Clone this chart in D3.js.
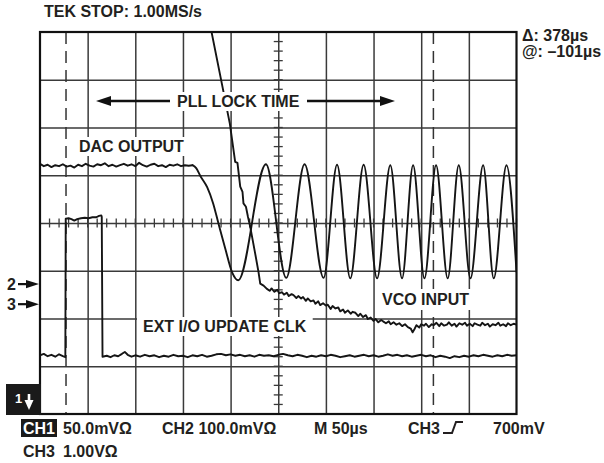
<!DOCTYPE html>
<html><head><meta charset="utf-8">
<script src="https://cdn.jsdelivr.net/npm/d3@7"></script>
<style>html,body{margin:0;padding:0;background:#fff;}svg{display:block;}</style>
</head><body>
<svg id="c" width="604" height="463"></svg>
<script>
// ---- data (time in µs, level in screen divisions) ----
const timeDomain = [0, 500];
const levelDomain = [-4, 4];
const gridTimes = [50, 100, 150, 200, 250, 300, 350, 400, 450];
const gridLevels = [-3, -2, -1, 0, 1, 2, 3];
const cursorTimes = [27.3, 412.8];
const channelMarkers = [{ label: "2", level: -1.28 }, { label: "3", level: -1.70 }];

const dacFlat = [[0,1.24],[4,1.19],[8,1.22],[12,1.17],[16,1.21],[20,1.19],[24,1.23],[28,1.18],[32,1.20],[36,1.16],[40,1.22],[44,1.19],[48,1.24],[52,1.20],[56,1.18],[60,1.23],[64,1.21],[68,1.25],[72,1.19],[76,1.22],[80,1.18],[84,1.21],[88,1.24],[92,1.20],[96,1.23],[100,1.19],[104,1.26],[108,1.21],[112,1.18],[116,1.22],[120,1.24],[124,1.19],[128,1.21],[132,1.17],[136,1.22],[140,1.20],[144,1.23],[148,1.19],[152,1.21],[156,1.20],[160,1.21]];
const dacWave = [[160,1.21],[163.9,1.15],[168.1,0.99],[175.4,0.75],[181.7,0.41],[187.0,0.01],[194.3,-0.53],[201.7,-1.04],[208.0,-1.20],
 [237.1,1.23],[258.4,-1.15],[277.6,1.23],[297.6,-1.15],[311.7,1.22],[325.6,-1.16],[339.6,1.22],[353.7,-1.16],[367.6,1.21],[379.9,-1.16],[391.5,1.21],[403.4,-1.16],[415.6,1.21],[427.8,-1.16],[439.4,1.21],[451.7,-1.16],[465.0,1.21],[476.1,-1.16],[489.5,1.21],[500,-1.02]];
const vcoTrace = [[177.0,4.30],[199.2,2.08],[204.8,1.28],[207.2,1.26],[210.1,0.76],[212.5,0.65],[213.5,0.41],[216.1,0.34],[218.2,0.13],[220.6,-0.08],[225.8,-0.64],[229.3,-1.03],[231.1,-1.27],[234.6,-1.31],[238.1,-1.38],
 [241,-1.42],[243,-1.37],[246,-1.44],[249,-1.40],[251,-1.47],[254,-1.45],[256,-1.50],[259,-1.46],[261,-1.53],[264,-1.49],[266,-1.51],[269,-1.57],[271,-1.53],[274,-1.58],[276,-1.55],[279,-1.63],[281,-1.58],[284,-1.64],[287,-1.62],[289,-1.69],[292,-1.64],[294,-1.72],[297,-1.68],[300,-1.73],[302,-1.71],[305,-1.80],[307,-1.74],[310,-1.79],[313,-1.77],[315,-1.85],[318,-1.81],[320,-1.88],[323,-1.83],[326,-1.90],[328,-1.86],[331,-1.88],[334,-1.95],[336,-1.90],[339,-1.97],[342,-1.93],[344,-2.01],[347,-1.98],[350,-2.05],[352,-2.01],[355,-2.08],[358,-2.03],[360,-2.06],[363,-2.10],[366,-2.06],[368,-2.12],[371,-2.08],[374,-2.13],[377,-2.10],[380,-2.16],[383,-2.12],[386,-2.18],[389,-2.21],[391,-2.29],[393,-2.22],[395,-2.14],[398,-2.19],[400,-2.12],[403,-2.15],[405,-2.11],[408,-2.18],[411,-2.12],[413,-2.14],[416,-2.09],[419,-2.16],[421,-2.10],[424,-2.15],[427,-2.13],[429,-2.08],[432,-2.15],[435,-2.11],[437,-2.17],[440,-2.10],[443,-2.13],[446,-2.09],[448,-2.15],[451,-2.11],[454,-2.16],[456,-2.10],[459,-2.13],[462,-2.15],[464,-2.09],[467,-2.14],[470,-2.11],[472,-2.17],[475,-2.12],[478,-2.14],[481,-2.09],[483,-2.15],[486,-2.12],[489,-2.16],[491,-2.10],[494,-2.14],[497,-2.11],[500,-2.13]];
const clkTrace = [[0,-2.77],[4,-2.74],[8,-2.79],[12,-2.76],[16,-2.80],[20,-2.75],[24,-2.79],[26.6,-2.81],[27.0,0.09],[30,0.10],[33,0.08],[36,0.05],[39,0.08],[43,0.10],[47,0.11],[51,0.10],[55,0.12],[59,0.12],[62,0.15],[64.3,0.16],[64.8,0.13],[65.6,-2.80],[70,-2.78],[74,-2.81],[78,-2.77],[82,-2.79],[86,-2.74],[89,-2.70],[92,-2.76],[96,-2.80],
 [100,-2.77],[105,-2.80],[110,-2.76],[115,-2.79],[120,-2.77],[125,-2.81],[130,-2.78],[135,-2.80],[140,-2.76],[145,-2.79],[150,-2.78],[155,-2.81],[160,-2.77],[165,-2.79],[170,-2.76],[175,-2.80],[180,-2.78],[185,-2.75],[190,-2.74],[195,-2.77],[200,-2.75],[205,-2.78],[210,-2.76],[215,-2.79],[220,-2.77],[225,-2.80],[230,-2.76],[235,-2.78],[240,-2.77],[245,-2.79],[250,-2.76],[255,-2.74],[260,-2.77],[265,-2.79],[270,-2.76],[275,-2.78],[280,-2.81],[285,-2.78],[290,-2.80],[295,-2.77],[300,-2.79],[305,-2.76],[310,-2.78],[315,-2.81],[320,-2.79],[325,-2.77],[330,-2.80],[335,-2.78],[340,-2.76],[345,-2.79],[350,-2.77],[355,-2.80],[360,-2.78],[365,-2.75],[370,-2.78],[375,-2.76],[380,-2.79],[385,-2.77],[390,-2.80],[395,-2.78],[400,-2.76],[405,-2.79],[410,-2.77],[415,-2.81],[420,-2.78],[425,-2.80],[430,-2.83],[435,-2.79],[440,-2.81],[445,-2.78],[450,-2.80],[455,-2.77],[460,-2.79],[465,-2.76],[470,-2.78],[475,-2.80],[480,-2.77],[485,-2.79],[490,-2.76],[495,-2.78],[500,-2.77]];

const headerText = "TEK STOP: 1.00MS/s";
const cursorTexts = ["\u0394: 378\u00B5s", "@: \u2013101\u00B5s"];
const footerRow1 = [{t:"50.0mV\u03A9", x:63}, {t:"CH2 100.0mV\u03A9", x:162}, {t:"M 50\u00B5s", x:314}, {t:"CH3", x:408}, {t:"700mV", x:493}];
const footerRow2 = [{t:"CH3", x:23}, {t:"1.00V\u03A9", x:63}];

// ---- drawing ----
const FONT = "'Liberation Sans', Arial, Helvetica, sans-serif";
const INK = "#231f20";
const svg = d3.select("#c");
svg.append("rect").attr("width",604).attr("height",463).attr("fill","#fff");

const x = d3.scaleLinear().domain(timeDomain).range([40, 516.5]);
const y = d3.scaleLinear().domain(levelDomain).range([414, 32]);

// grid via axes
const gx = svg.append("g").attr("transform",`translate(0,${y(-4)})`)
  .call(d3.axisBottom(x).tickValues(gridTimes).tickSize(-(y(-4)-y(4))).tickFormat(""));
const gy = svg.append("g").attr("transform",`translate(${x(0)},0)`)
  .call(d3.axisLeft(y).tickValues(gridLevels).tickSize(-(x(500)-x(0))).tickFormat(""));
[gx, gy].forEach(g => { g.select(".domain").remove(); g.selectAll(".tick line").attr("stroke","#3a3a3a").attr("stroke-width",1.5); });

// center minor ticks
const minorT = d3.range(0, 501, 10);
const minorV = d3.range(-4, 4.001, 0.2);
svg.append("g").selectAll("line").data(minorT).join("line")
  .attr("x1",d=>x(d)).attr("x2",d=>x(d)).attr("y1",y(0)-4.5).attr("y2",y(0)+4.5)
  .attr("stroke","#3a3a3a").attr("stroke-width",1.3);
svg.append("g").selectAll("line").data(minorV).join("line")
  .attr("y1",d=>y(d)).attr("y2",d=>y(d)).attr("x1",x(250)-4.5).attr("x2",x(250)+4.5)
  .attr("stroke","#3a3a3a").attr("stroke-width",1.3);

// cursors
svg.append("g").selectAll("line").data(cursorTimes).join("line")
  .attr("x1",d=>x(d)).attr("x2",d=>x(d)).attr("y1",y(4)).attr("y2",y(-4))
  .attr("stroke","#333").attr("stroke-width",1.5).attr("stroke-dasharray","12,7");

// clip
svg.append("clipPath").attr("id","plot").append("rect")
  .attr("x",x(0)).attr("y",y(4)).attr("width",x(500)-x(0)).attr("height",y(-4)-y(4));
const traces = svg.append("g").attr("clip-path","url(#plot)");
const lin = d3.line().x(d=>x(d[0])).y(d=>y(d[1]));
const smooth = d3.line().x(d=>x(d[0])).y(d=>y(d[1])).curve(d3.curveMonotoneX);
function trace(data, gen){
  traces.append("path").datum(data).attr("d",gen).attr("fill","none")
    .attr("stroke","#151515").attr("stroke-width",1.9).attr("stroke-linejoin","round").attr("stroke-linecap","round");
}
trace(clkTrace, lin);
trace(dacFlat, lin);
trace(dacWave, smooth);
trace(vcoTrace, lin);

// frame
svg.append("rect").attr("x",x(0)).attr("y",y(4)).attr("width",x(500)-x(0)).attr("height",y(-4)-y(4))
  .attr("fill","none").attr("stroke","#111").attr("stroke-width",2.2);

// labels with white backgrounds
function text(g, str, tx, ty, size, fill){
  return g.append("text").attr("x",tx).attr("y",ty).text(str)
    .attr("font-family",FONT).attr("font-weight","bold").attr("font-size",size||16).attr("fill",fill||INK);
}
function boxed(str, tx, ty, px, py){
  const g = svg.append("g");
  const t = text(g, str, tx, ty);
  const b = t.node().getBBox();
  g.insert("rect","text").attr("x",b.x-px).attr("y",b.y-py).attr("width",b.width+2*px).attr("height",b.height+2*py).attr("fill","#fff");
}
boxed("PLL LOCK TIME", 177, 107, 5, 1);
boxed("DAC OUTPUT", 79, 152, 4, 1);
boxed("VCO INPUT", 382, 305, 5, 2);
boxed("EXT I/O UPDATE CLK", 143, 332, 6, 1);

// PLL arrows
const ay = 101;
function arrow(x1, x2){ // x2 = tip
  const dir = Math.sign(x2-x1);
  svg.append("line").attr("x1",x1).attr("x2",x2-dir*12).attr("y1",ay).attr("y2",ay).attr("stroke","#111").attr("stroke-width",2.4);
  svg.append("path").attr("d",`M${x2},${ay} L${x2-dir*15},${ay-5} L${x2-dir*15},${ay+5} Z`).attr("fill","#111");
}
arrow(170, 96);
arrow(307, 395);

// header / cursor readouts
text(svg, headerText, 44, 17);
text(svg, cursorTexts[0], 522, 41);
text(svg, cursorTexts[1], 522, 57);

// channel markers
channelMarkers.forEach(m => {
  const yy = y(m.level);
  text(svg, m.label, 7, yy+6, 16);
  svg.append("line").attr("x1",18).attr("x2",28).attr("y1",yy).attr("y2",yy).attr("stroke","#111").attr("stroke-width",2.2);
  svg.append("path").attr("d",`M39,${yy} L26,${yy-4.2} L26,${yy+4.2} Z`).attr("fill","#111");
});

// "1 ▼" ground box
svg.append("rect").attr("x",6).attr("y",384).attr("width",35).attr("height",31).attr("fill","#1a1a1a");
text(svg, "1", 15, 403, 13, "#fff");
svg.append("line").attr("x1",29).attr("x2",29).attr("y1",394).attr("y2",402).attr("stroke","#fff").attr("stroke-width",2.6);
svg.append("path").attr("d","M24.5,400 L33.5,400 L29,410 Z").attr("fill","#fff");

// footer
svg.append("rect").attr("x",21).attr("y",419).attr("width",36).attr("height",18).attr("fill","#1a1a1a");
text(svg, "CH1", 23, 434, 16, "#fff");
footerRow1.forEach(f => text(svg, f.t, f.x, 434));
footerRow2.forEach(f => text(svg, f.t, f.x, 457));
svg.append("path").attr("d","M443,433 H452 L456,422 H463").attr("fill","none").attr("stroke",INK).attr("stroke-width",2);
</script>
</body></html>
